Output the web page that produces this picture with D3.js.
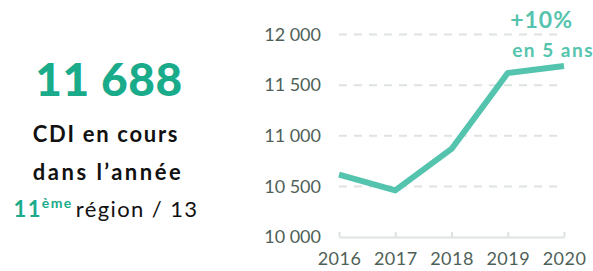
<!DOCTYPE html>
<html lang="fr">
<head>
  <meta charset="UTF-8" />
  <title>CDI en cours dans l'année</title>
  <script src="https://d3js.org/d3.v7.min.js"></script>
  <style>
    body { margin: 0; background: #fff; }
    svg { display: block; }
    text { font-family: Lato, 'Noto Sans', sans-serif; }
  </style>
</head>
<body>
  <svg id="chart" width="593" height="271"></svg>
  <script>
    // données
    const years = [2016, 2017, 2018, 2019, 2020];
    const cdi = [10615, 10460, 10870, 11620, 11688];
    const yTicks = [10000, 10500, 11000, 11500, 12000];

    const svg = d3.select("#chart");
    const fmt = d => d3.format(",")(d).replace(",", " ");

    // bloc de gauche
    svg.append("text")
      .attr("x", 109).attr("y", 96)
      .attr("text-anchor", "middle")
      .attr("font-size", 46).attr("font-weight", 900)
      .attr("letter-spacing", 0.5)
      .attr("fill", "#1aab8b")
      .text(fmt(cdi[cdi.length - 1]));

    svg.append("text")
      .attr("x", 106).attr("y", 142)
      .attr("text-anchor", "middle")
      .attr("font-size", 22).attr("font-weight", 700)
      .attr("letter-spacing", 1.7)
      .attr("fill", "#111")
      .text("CDI en cours");

    svg.append("text")
      .attr("x", 108).attr("y", 180)
      .attr("text-anchor", "middle")
      .attr("font-size", 22).attr("font-weight", 700)
      .attr("letter-spacing", 2.5)
      .attr("fill", "#111")
      .text("dans l’année");

    const rank = svg.append("text")
      .attr("x", 106).attr("y", 217)
      .attr("text-anchor", "middle")
      .attr("font-size", 22)
      .attr("letter-spacing", 1.4)
      .attr("fill", "#111");
    rank.append("tspan").attr("fill", "#1aab8b").attr("font-weight", 700).text("11");
    rank.append("tspan").attr("fill", "#1aab8b").attr("font-weight", 700)
      .attr("font-size", 14).attr("dy", -9).text("ème");
    rank.append("tspan").attr("dy", 9).attr("dx", 3).text("région / 13");

    // graphique
    const x = d3.scalePoint().domain(years).range([339, 564]);
    const y = d3.scaleLinear().domain([10000, 12000]).range([237, 34.5]);

    const grid = svg.append("g");
    grid.selectAll("line.grid")
      .data(yTicks.filter(t => t > 10000))
      .join("line")
      .attr("x1", 339).attr("x2", 564)
      .attr("y1", d => y(d)).attr("y2", d => y(d))
      .attr("stroke", "#dde3e0").attr("stroke-width", 2)
      .attr("stroke-dasharray", "8,7");

    // axe des x
    const xAxis = svg.append("g")
      .attr("transform", `translate(0,${y(10000)})`)
      .call(d3.axisBottom(x).tickSizeInner(-5).tickSizeOuter(0).tickPadding(15));
    xAxis.select(".domain").attr("stroke", "#dde3e0").attr("stroke-width", 2);
    xAxis.selectAll(".tick line").attr("stroke", "#dde3e0").attr("stroke-width", 2);
    xAxis.selectAll(".tick text")
      .attr("font-family", "Lato, 'Noto Sans', sans-serif")
      .attr("font-size", 18).attr("letter-spacing", 0.5).attr("fill", "#4f5f58");

    // axe des y
    const yAxis = svg.append("g")
      .attr("transform", "translate(321,0)")
      .call(d3.axisLeft(y).tickValues(yTicks).tickFormat(fmt).tickSize(0).tickPadding(0));
    yAxis.select(".domain").remove();
    yAxis.selectAll(".tick text")
      .attr("font-family", "Lato, 'Noto Sans', sans-serif")
      .attr("font-size", 18).attr("fill", "#4f5f58");

    // courbe
    const line = d3.line().x((d, i) => x(years[i])).y(d => y(d));
    svg.append("path")
      .datum(cdi)
      .attr("d", line)
      .attr("fill", "none")
      .attr("stroke", "#55c4ae")
      .attr("stroke-width", 6)
      .attr("stroke-linejoin", "round");

    // annotation
    svg.append("text")
      .attr("x", 573).attr("y", 28)
      .attr("text-anchor", "end")
      .attr("font-size", 23).attr("font-weight", 700)
      .attr("letter-spacing", 1)
      .attr("fill", "#55c4ae")
      .text("+10%");
    svg.append("text")
      .attr("x", 594).attr("y", 57)
      .attr("text-anchor", "end")
      .attr("font-size", 19).attr("font-weight", 700)
      .attr("letter-spacing", 1.5)
      .attr("fill", "#55c4ae")
      .text("en 5 ans");
  </script>
</body>
</html>
